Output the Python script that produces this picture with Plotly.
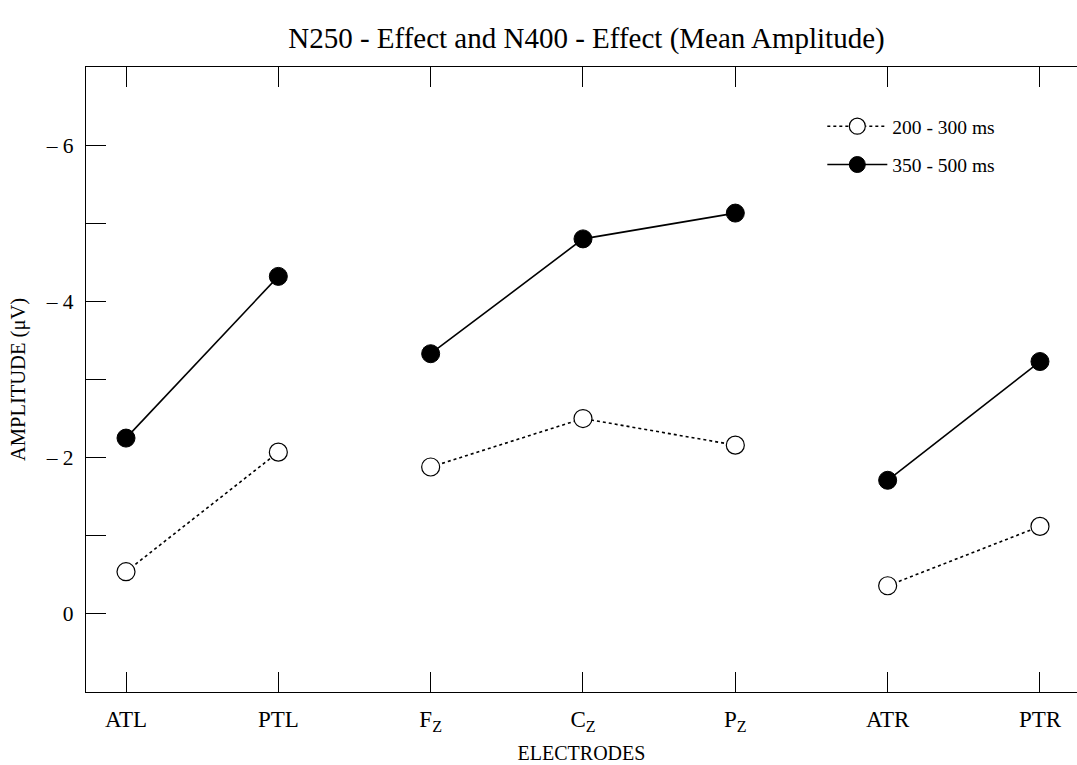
import plotly.graph_objects as go

electrodes = ["ATL", "PTL", "F<sub>Z</sub>", "C<sub>Z</sub>", "P<sub>Z</sub>", "ATR", "PTR"]
segments = [[0, 1], [2, 3, 4], [5, 6]]  # electrode groups joined by lines
early_name = "200 - 300 ms"
late_name = "350 - 500 ms"
early_vals = [-0.54, -2.07, -1.88, -2.50, -2.16, -0.36, -1.12]
late_vals = [-2.25, -4.32, -3.33, -4.80, -5.13, -1.71, -3.23]
ytick_vals = [-6, -5, -4, -3, -2, -1, 0]
ytick_text = ["\u2013 6", "", "\u2013 4", "", "\u2013 2", "", "0"]

FONT = "Liberation Serif"
fig = go.Figure()

for gi, seg in enumerate(segments):
    fig.add_trace(go.Scatter(
        x=seg, y=[early_vals[i] for i in seg], mode="lines+markers",
        name=early_name, legendgroup="early", showlegend=(gi == 0),
        line=dict(color="black", width=1.6, dash="3px,3px"),
        marker=dict(size=18, color="white", line=dict(color="black", width=1.2)),
    ))
for gi, seg in enumerate(segments):
    fig.add_trace(go.Scatter(
        x=seg, y=[late_vals[i] for i in seg], mode="lines+markers",
        name=late_name, legendgroup="late", showlegend=(gi == 0),
        line=dict(color="black", width=1.6),
        marker=dict(size=18, color="black", line=dict(color="black", width=1)),
    ))

fig.update_layout(
    width=1077, height=765,
    margin=dict(l=86, r=0, t=67, b=73),
    paper_bgcolor="white", plot_bgcolor="white",
    font=dict(family=FONT, color="black", size=20),
    title=dict(text="N250 - Effect and N400 - Effect (Mean Amplitude)",
               x=0.505, xref="paper", y=1 - 38 / 765, yanchor="middle",
               font=dict(family=FONT, size=29, color="black")),
    showlegend=True,
    legend=dict(x=0.743, y=0.936, xanchor="left", yanchor="top",
                bgcolor="rgba(0,0,0,0)", font=dict(family=FONT, size=19.5),
                itemwidth=60, tracegroupgap=10),
    xaxis=dict(
        range=[-0.2626, 6.243], tickmode="array",
        tickvals=list(range(len(electrodes))), ticktext=electrodes,
        showgrid=False, zeroline=False, showline=True, linecolor="black",
        linewidth=1.2, mirror="ticks", ticks="inside", ticklen=20,
        tickcolor="black", tickwidth=1, ticklabelstandoff=6,
        tickfont=dict(family=FONT, size=23),
        title=dict(text="ELECTRODES", font=dict(family=FONT, size=20), standoff=12),
    ),
    yaxis=dict(
        range=[1, -7], tickmode="array", tickvals=ytick_vals, ticktext=ytick_text,
        showgrid=False, zeroline=False, showline=True, linecolor="black",
        linewidth=1.2, ticks="inside", ticklen=20, tickcolor="black", tickwidth=1,
        ticklabelstandoff=7, tickfont=dict(family=FONT, size=21.5),
        title=dict(text="AMPLITUDE (\u03bcV)", font=dict(family=FONT, size=20.5), standoff=14),
    ),
    yaxis2=dict(
        overlaying="y", side="right", matches="y", range=[1, -7],
        tickmode="array", tickvals=ytick_vals, showticklabels=False,
        showgrid=False, zeroline=False, showline=False,
        ticks="inside", ticklen=8, tickcolor="black", tickwidth=1,
    ),
)

fig.write_html("out.html", config={"displayModeBar": False},
               post_script="document.body.style.margin='0px';")
